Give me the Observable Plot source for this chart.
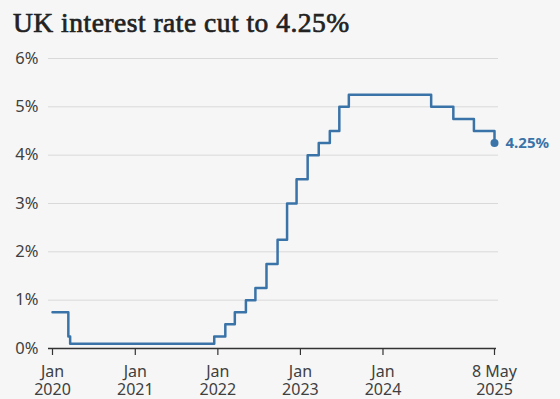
<!DOCTYPE html>
<html>
<head>
<meta charset="utf-8">
<script src="https://cdn.jsdelivr.net/npm/d3@7"></script>
<script src="https://cdn.jsdelivr.net/npm/@observablehq/plot@0.6"></script>
<style>
  html, body { margin: 0; padding: 0; background: #f6f6f6; }
  #title { height: 45px; box-sizing: border-box; padding: 9px 0 0 13px; font-family: "Liberation Serif", serif; font-size: 27.5px; font-weight: normal; letter-spacing: 0.5px; -webkit-text-stroke: 0.7px #222; color: #222; line-height: 27px; }
  svg { display: block; }
</style>
</head>
<body>
<div id="title">UK interest rate cut to 4.25%</div>
<div id="chart"></div>
<script>
const dates = ["2020-01-01","2020-03-11","2020-03-19","2021-12-16","2022-02-03","2022-03-17","2022-05-05","2022-06-16","2022-08-04","2022-09-22","2022-11-03","2022-12-15","2023-02-02","2023-03-23","2023-05-11","2023-06-22","2023-08-03","2024-08-01","2024-11-07","2025-02-06","2025-05-08"];
const rates = [0.75,0.25,0.1,0.25,0.5,0.75,1,1.25,1.75,2.25,3,3.5,4,4.25,4.5,5,5.25,5,4.75,4.5,4.25];
const tickDates = ["2020-01-01","2021-01-01","2022-01-01","2023-01-01","2024-01-01","2025-05-08"];
const tickLabels = ["Jan\n2020","Jan\n2021","Jan\n2022","Jan\n2023","Jan\n2024","8 May\n2025"];
const yTicks = [0,1,2,3,4,5,6];
const lastLabel = "4.25%";

const data = dates.map((d, i) => ({date: new Date(d), rate: rates[i]}));
const last = data[data.length - 1];
const tickDateObjs = tickDates.map(d => new Date(d));
const labelFor = d => tickLabels[tickDateObjs.findIndex(t => +t === +d)];
const blue = "#3a73a8";

const chart = Plot.plot({
  width: 560,
  height: 354,
  marginLeft: 52,
  marginRight: 66,
  marginTop: 13,
  marginBottom: 51,
  style: { background: "transparent", fontFamily: "Noto Sans, sans-serif", fontSize: "16px", color: "#404040" },
  x: { type: "utc", domain: [new Date(dates[0]), last.date], label: null },
  y: { domain: [0, 6], label: null },
  marks: [
    Plot.ruleY(yTicks.filter(d => d > 0), { stroke: "#d9d9d9", strokeWidth: 1, insetLeft: -4, insetRight: -4 }),
    Plot.axisY({ ticks: yTicks, tickFormat: d => d + "%", tickSize: 0, tickPadding: 14, fontSize: 16.5, fill: "#404040", label: null }),
    Plot.axisX({ ticks: tickDateObjs, tickFormat: labelFor, tickSize: 7, tickPadding: 8, fontSize: 16, lineHeight: 1.15, stroke: "#333", fill: "#404040", strokeWidth: 1.2, label: null }),
    Plot.ruleY([0], { stroke: "#333", strokeWidth: 1.5, insetLeft: -4, insetRight: -2 }),
    Plot.line(data, { x: "date", y: "rate", curve: "step-after", stroke: blue, strokeWidth: 2.5 }),
    Plot.dot([last], { x: "date", y: "rate", r: 4, fill: blue }),
    Plot.text([last], { x: "date", y: "rate", text: () => lastLabel, dx: 11, textAnchor: "start", fill: blue, fontWeight: "bold", fontSize: 15 })
  ]
});
document.getElementById("chart").appendChild(chart);
</script>
</body>
</html>
